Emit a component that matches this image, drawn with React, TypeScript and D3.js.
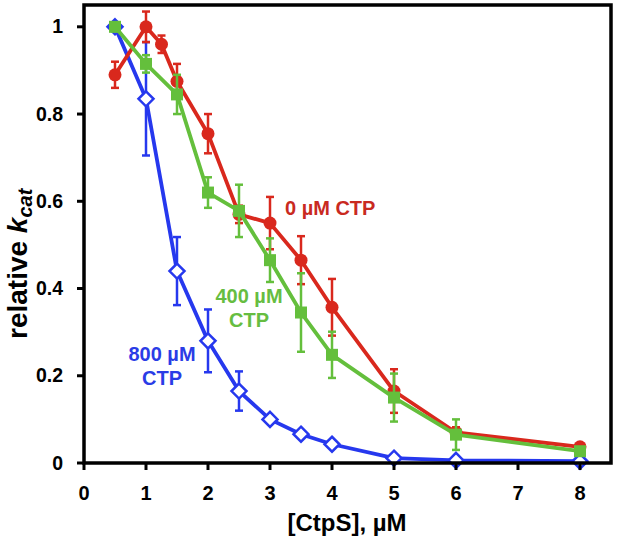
import React, { useEffect, useRef } from "react";
import * as d3 from "d3";

// [CtpS] concentrations, µM
const xRed = [0.5, 1, 1.25, 1.5, 2, 2.5, 3, 3.5, 4, 5, 6, 8];
const xOther = [0.5, 1, 1.5, 2, 2.5, 3, 3.5, 4, 5, 6, 8];

// 0 µM CTP
const redY = [0.89, 1.0, 0.96, 0.875, 0.755, 0.57, 0.55, 0.465, 0.357, 0.165, 0.07, 0.037];
const redErr = [0.03, 0.035, 0.02, 0.04, 0.045, 0.02, 0.06, 0.055, 0.065, 0.05, 0.012, 0.006];

// 400 µM CTP
const greenY = [1.0, 0.915, 0.845, 0.62, 0.578, 0.465, 0.345, 0.248, 0.15, 0.065, 0.027];
const greenErr = [0.01, 0.02, 0.045, 0.035, 0.06, 0.05, 0.09, 0.053, 0.055, 0.035, 0.008];

// 800 µM CTP
const blueY = [1.0, 0.835, 0.44, 0.28, 0.165, 0.1, 0.066, 0.043, 0.011, 0.006, 0.004];
const blueErr = [0, 0.13, 0.078, 0.072, 0.045, 0, 0, 0, 0, 0, 0];

const xTicks = [0, 1, 2, 3, 4, 5, 6, 7, 8];
const yTicks = [0, 0.2, 0.4, 0.6, 0.8, 1];

const W = 617;
const H = 541;

const App: React.FC = () => {
  const svgRef = useRef<SVGSVGElement | null>(null);

  useEffect(() => {
    document.body.style.margin = "0";
    if (!svgRef.current) return;
    const svg = d3.select(svgRef.current);
    svg.selectAll("*").remove();

    const left = 84, right = 611, top = 5, bottom = 463;
    const x = d3.scaleLinear().domain([0, 8.5]).range([left, right]);
    const y = d3.scaleLinear().domain([0, 1.05]).range([bottom, top]);
    const font = "'Liberation Sans', Arial, sans-serif";

    const series = [
      { xs: xOther, ys: blueY, err: blueErr, color: "#2638ee", marker: "diamond" },
      { xs: xRed, ys: redY, err: redErr, color: "#d9281d", marker: "circle" },
      { xs: xOther, ys: greenY, err: greenErr, color: "#64bf3c", marker: "square" },
    ];

    const line = d3
      .line<[number, number]>()
      .x((d) => x(d[0]))
      .y((d) => y(d[1]));

    series.forEach((s) => {
      const pts = s.xs.map((v, i) => [v, s.ys[i]] as [number, number]);
      const g = svg.append("g");

      // error bars
      pts.forEach((p, i) => {
        const e = s.err[i];
        if (!e) return;
        const cx = x(p[0]);
        const y1 = y(p[1] + e);
        const y2 = y(p[1] - e);
        g.append("line").attr("x1", cx).attr("x2", cx).attr("y1", y1).attr("y2", y2)
          .attr("stroke", s.color).attr("stroke-width", 2.5);
        [y1, y2].forEach((yy) =>
          g.append("line").attr("x1", cx - 4).attr("x2", cx + 4).attr("y1", yy).attr("y2", yy)
            .attr("stroke", s.color).attr("stroke-width", 2.5)
        );
      });

      g.append("path")
        .attr("d", line(pts))
        .attr("fill", "none")
        .attr("stroke", s.color)
        .attr("stroke-width", 3.8)
        .attr("stroke-linejoin", "round");

      pts.forEach((p) => {
        const cx = x(p[0]);
        const cy = y(p[1]);
        if (s.marker === "circle") {
          g.append("circle").attr("cx", cx).attr("cy", cy).attr("r", 6.5).attr("fill", s.color);
        } else if (s.marker === "square") {
          g.append("rect").attr("x", cx - 6).attr("y", cy - 6).attr("width", 12).attr("height", 12)
            .attr("fill", s.color);
        } else {
          const r = 7.5;
          g.append("path")
            .attr("d", `M${cx},${cy - r}L${cx + r},${cy}L${cx},${cy + r}L${cx - r},${cy}Z`)
            .attr("fill", "#fff")
            .attr("stroke", s.color)
            .attr("stroke-width", 2.5);
        }
      });
    });

    // frame
    svg.append("rect")
      .attr("x", left).attr("y", top)
      .attr("width", right - left).attr("height", bottom - top)
      .attr("fill", "none").attr("stroke", "#000").attr("stroke-width", 3.5);

    // x ticks
    xTicks.forEach((t) => {
      svg.append("line").attr("x1", x(t)).attr("x2", x(t)).attr("y1", bottom).attr("y2", bottom + 7)
        .attr("stroke", "#000").attr("stroke-width", 3);
      svg.append("text").attr("x", x(t)).attr("y", 500)
        .attr("text-anchor", "middle").attr("font-family", font).attr("font-weight", "bold")
        .attr("font-size", 20).text(t);
    });

    // y ticks
    yTicks.forEach((t) => {
      svg.append("line").attr("x1", left - 7).attr("x2", left).attr("y1", y(t)).attr("y2", y(t))
        .attr("stroke", "#000").attr("stroke-width", 3);
      svg.append("text").attr("x", 63).attr("y", y(t) + 6.5)
        .attr("text-anchor", "end").attr("font-family", font).attr("font-weight", "bold")
        .attr("font-size", 19.5).text(String(t));
    });

    // axis titles
    svg.append("text").attr("x", 347).attr("y", 531)
      .attr("text-anchor", "middle").attr("font-family", font).attr("font-weight", "bold")
      .attr("font-size", 24).text("[CtpS], µM");

    const yl = svg.append("text")
      .attr("transform", "translate(27,339) rotate(-90)")
      .attr("text-anchor", "start").attr("font-family", font).attr("font-weight", "bold")
      .attr("font-size", 28);
    yl.append("tspan").text("relative ");
    yl.append("tspan").attr("font-style", "italic").text("k");
    yl.append("tspan").attr("font-style", "italic").attr("font-size", 20).attr("dy", 5).text("cat");

    // series labels
    const lab = (txt: string, lx: number, ly: number, color: string, anchor = "middle") =>
      svg.append("text").attr("x", lx).attr("y", ly).attr("text-anchor", anchor)
        .attr("font-family", font).attr("font-weight", "bold").attr("font-size", 20)
        .attr("fill", color).text(txt);

    lab("0 µM CTP", 285, 215, "#c92a1f", "start");
    lab("400 µM", 249, 303, "#66bd41");
    lab("CTP", 249, 327, "#66bd41");
    lab("800 µM", 162, 361, "#2a3ce6");
    lab("CTP", 162, 385, "#2a3ce6");
  }, []);

  return <svg ref={svgRef} width={W} height={H} style={{ display: "block", background: "#fff" }} />;
};

export default App;
